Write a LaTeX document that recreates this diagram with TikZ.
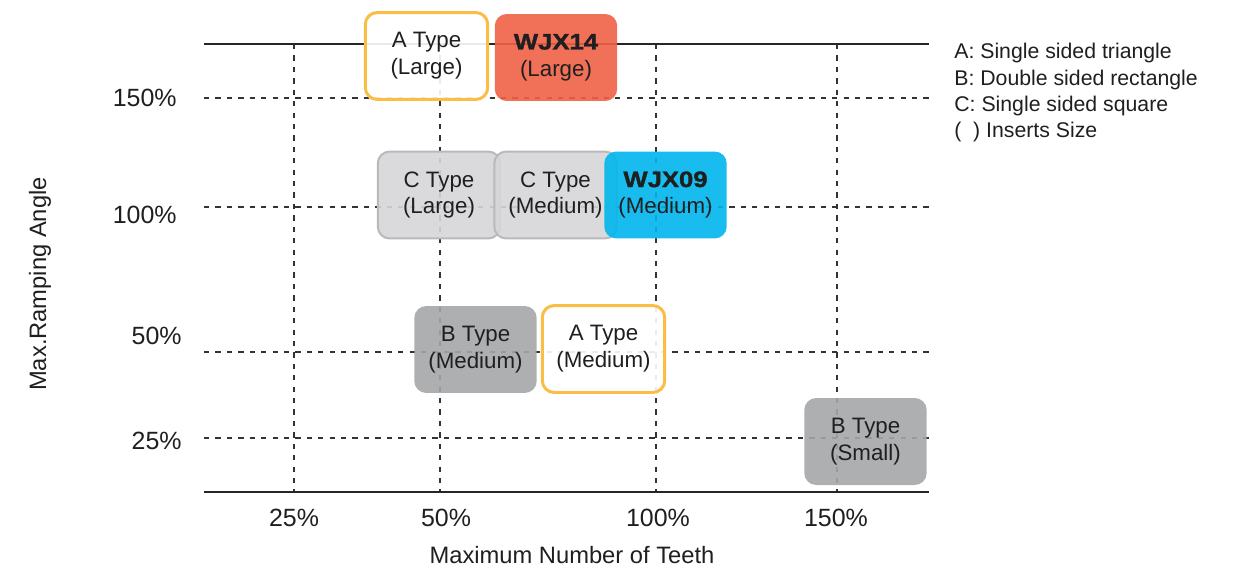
\documentclass[tikz,border=0pt]{standalone}
\usepackage{fontspec}
\setmainfont{Liberation Sans}
\newfontfamily\blackfont[FakeStretch=1.15,FakeBold=1.5]{Liberation Sans Bold}
\usepackage{tikz}
\usetikzlibrary{positioning}

\definecolor{typeline}{RGB}{250,190,70}
\definecolor{wjxred}{RGB}{240,96,70}
\definecolor{wjxblue}{RGB}{0,181,236}
\definecolor{lightgray}{RGB}{214,214,216}
\definecolor{lightedge}{RGB}{185,185,187}
\definecolor{darkgray}{RGB}{165,166,169}

\begin{document}
\begin{tikzpicture}[x=0.02cm, y=-0.02cm, node distance = 0mm and 0mm,
    insert/.style={rectangle,rounded corners=0.24cm,align=center,minimum width=2.45cm,minimum height=1.74cm,
                   inner sep=0pt,font=\fontsize{12.7}{15.3}\selectfont,text=black!88,fill opacity=0.9,text opacity=1},
    atype/.style={insert,draw=typeline,line width=0.06cm,fill=white},
    btype/.style={insert,fill=darkgray},
    ctype/.style={insert,draw=lightedge,line width=0.04cm,fill=lightgray},
    wjx/.style={insert},
    grid/.style={dashed,dash pattern=on 3pt off 3.5pt,line width=0.7pt,black!80},
    axis/.style={line width=1.1pt,black!85},
    tick/.style={font=\fontsize{14.2}{16}\selectfont,text=black!88,inner sep=0pt},
    title/.style={font=\fontsize{13.5}{16}\selectfont,text=black!88,inner sep=0pt},
   ]
    \useasboundingbox (0,0) rectangle (1235,569);

    % grid
    \foreach \y in {98,207,352,438} \draw[grid] (204,\y) -- (929,\y);
    \foreach \x in {294,440,656,837} \draw[grid] (\x,44) -- (\x,492);
    \draw[axis] (204,44) -- (929,44);
    \draw[axis] (204,492) -- (929,492);

    % tick labels
    \node (y150) [tick,anchor=east] at (177,98)  {150\%};
    \node (y100) [tick,anchor=east] at (177,215) {100\%};
    \node (y50)  [tick,anchor=east] at (182,336) {50\%};
    \node (y25)  [tick,anchor=east] at (182,441) {25\%};
    \node (x25)  [tick] at (294,518) {25\%};
    \node (x50)  [tick] at (446,518) {50\%};
    \node (x100) [tick] at (658,518) {100\%};
    \node (x150) [tick] at (836,518) {150\%};

    \node (xtitle) [title] at (572,555) {Maximum Number of Teeth};
    \node (ytitle) [title,rotate=90] at (40,284) {Max.Ramping Angle};

    % inserts
    \node (alarge) [atype] at (426.5,56)  {A Type\\(Large)};
    \node (wjx14)  [wjx,fill=wjxred] at (556,57.5) {{\blackfont WJX14}\\(Large)};
    \node (clarge) [ctype] at (439,195)   {C Type\\(Large)};
    \node (cmed)   [ctype] at (555.5,195) {C Type\\(Medium)};
    \node (wjx09)  [wjx,fill=wjxblue] at (665.5,195) {{\blackfont WJX09}\\(Medium)};
    \node (bmed)   [btype] at (475.5,349.5) {B Type\\(Medium)};
    \node (amed)   [atype] at (603.5,349) {A Type\\(Medium)};
    \node (bsmall) [btype] at (865.5,441.5) {B Type\\(Small)};

    % legend
    \node (legend) [anchor=north west,align=left,inner sep=0pt,text=black!88,
                    font=\fontsize{12.1}{15}\selectfont] at (954,43)
          {A: Single sided triangle\\B: Double sided rectangle\\C: Single sided square\\(\ \ ) Inserts Size};
\end{tikzpicture}
\end{document}
